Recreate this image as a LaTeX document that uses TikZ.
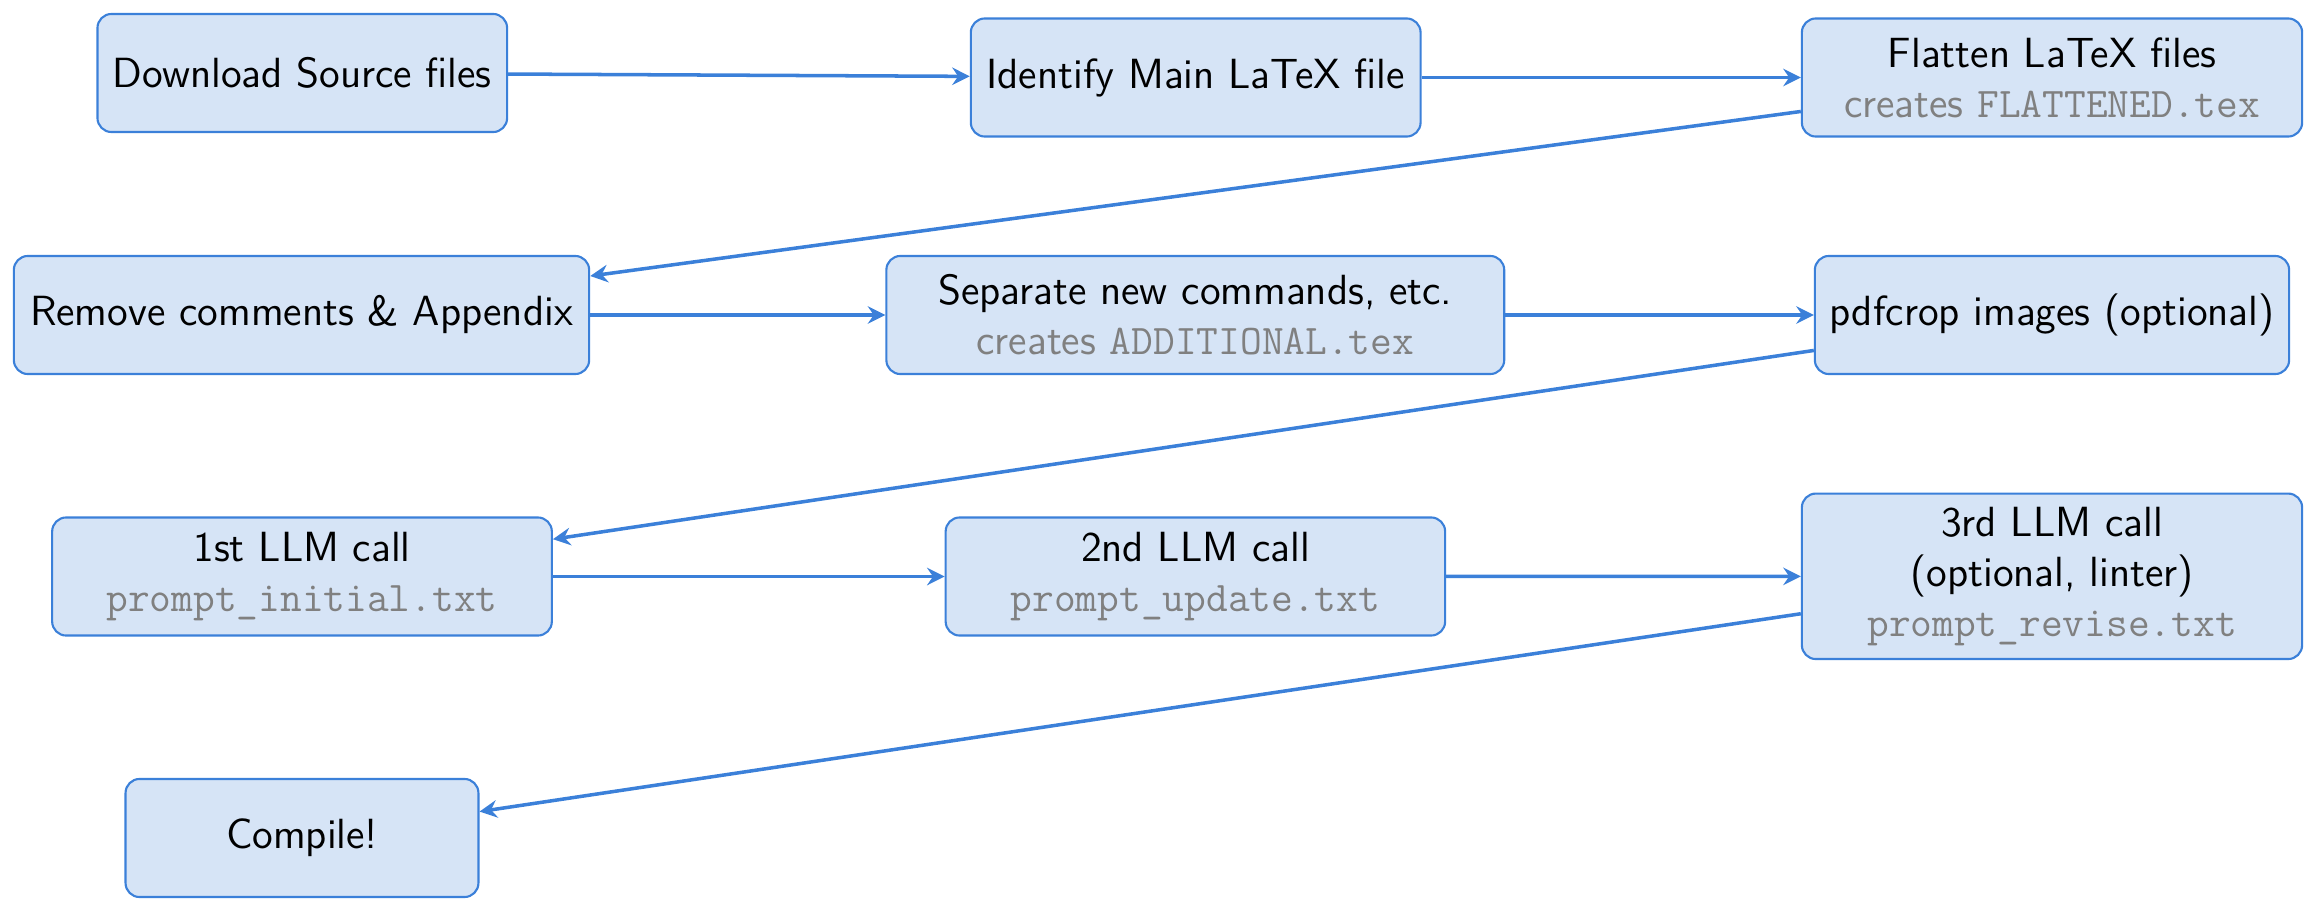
\documentclass[tikz,border=0pt]{standalone}
\usetikzlibrary{arrows.meta}
\definecolor{boxfill}{RGB}{214,228,246}
\definecolor{boxline}{RGB}{59,128,217}
\definecolor{codegray}{RGB}{128,128,128}
\newcommand{\graycode}[1]{\textcolor{codegray}{#1}}
\begin{document}
\begin{tikzpicture}[x=0.01cm,y=-0.01cm,
  box/.style={draw=boxline, line width=0.6pt, fill=boxfill, rounded corners=0.14cm,
    minimum height=1.18cm, inner sep=2pt, align=center,
    font=\sffamily\fontsize{12}{14.2}\selectfont},
  conn/.style={draw=boxline, line width=1pt,
    -{Stealth[length=5pt,width=5pt,inset=1.7pt]}}]
\useasboundingbox (0,0) rectangle (2317,912);
\node[box, minimum width=4.094cm] (dl) at (302.3,73) {Download Source files};
\node[box, minimum width=4.495cm] (id) at (1195.7,77.5) {Identify Main LaTeX file};
\node[box, minimum width=5.0cm] (fl) at (2052,77.5) {Flatten LaTeX files\\\graycode{creates \texttt{FLATTENED.tex}}};
\node[box, minimum width=5.75cm] (rm) at (301.5,315) {Remove comments \& Appendix};
\node[box, minimum width=6.175cm] (sp) at (1195.3,315) {Separate new commands, etc.\\\graycode{creates \texttt{ADDITIONAL.tex}}};
\node[box, minimum width=4.74cm] (pc) at (2052,315) {pdfcrop images (optional)};
\node[box, minimum width=4.994cm] (l1) at (302,576.5) {1st LLM call\\\graycode{\texttt{prompt\_initial.txt}}};
\node[box, minimum width=4.992cm] (l2) at (1195.4,576.5) {2nd LLM call\\\graycode{\texttt{prompt\_update.txt}}};
\node[box, minimum width=5.0cm, minimum height=1.654cm] (l3) at (2052,576.3) {3rd LLM call\\(optional, linter)\\\graycode{\texttt{prompt\_revise.txt}}};
\node[box, minimum width=3.527cm] (cp) at (302,838) {Compile!};
\draw[conn] (dl) -- (id);
\draw[conn] (id) -- (fl);
\draw[conn] (fl) -- (rm);
\draw[conn] (rm) -- (sp);
\draw[conn] (sp) -- (pc);
\draw[conn] (pc) -- (l1);
\draw[conn] (l1) -- (l2);
\draw[conn] (l2) -- (l3);
\draw[conn] (l3) -- (cp);
\end{tikzpicture}
\end{document}
